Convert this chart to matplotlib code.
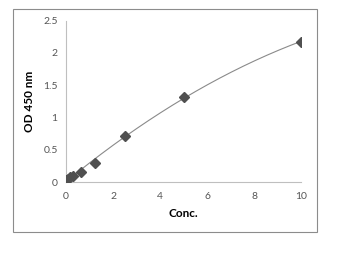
import numpy as np
import matplotlib.pyplot as plt
from matplotlib.patches import Rectangle

# standard curve data
conc = [0, 0.078, 0.156, 0.3125, 0.625, 1.25, 2.5, 5, 10]
od450 = [0.03, 0.05, 0.07, 0.10, 0.155, 0.295, 0.72, 1.315, 2.175]

plt.rcParams['font.family'] = ['Lato', 'DejaVu Sans']

fig = plt.figure(figsize=(3.41, 2.67), dpi=100)
fig.patches.append(Rectangle((13 / 341, 1 - 232 / 267), 304 / 341, 223 / 267,
                             transform=fig.transFigure, fill=False,
                             edgecolor='#8c8c8c', linewidth=0.8))

ax = fig.add_axes([66 / 341, 1 - 182 / 267, 235 / 341, 161.3 / 267])

# polynomial trend line (2nd order)
coef = np.polyfit(conc, od450, 2)
xs = np.linspace(0, 10, 200)
ax.plot(xs, np.polyval(coef, xs), color='#8a8a8a', linewidth=0.8, zorder=2)
ax.plot(conc, od450, linestyle='none', marker='D', markersize=5.5,
        color='#505050', zorder=3)

ax.set_xlim(0, 10)
ax.set_ylim(0, 2.5)
ax.set_xticks([0, 2, 4, 6, 8, 10])
ax.set_yticks([0, 0.5, 1, 1.5, 2, 2.5])
ax.set_yticklabels(['0', '0.5', '1', '1.5', '2', '2.5'])
ax.tick_params(length=0, labelsize=7.5, colors='#555555')
ax.tick_params(axis='x', pad=7)
ax.tick_params(axis='y', pad=6)
for s in ['top', 'right']:
    ax.spines[s].set_visible(False)
for s in ['left', 'bottom']:
    ax.spines[s].set_color('#bfbfbf')
    ax.spines[s].set_linewidth(0.8)

ax.set_xlabel('Conc.', fontsize=8.5, fontweight='bold', labelpad=5)
ax.set_ylabel('OD 450 nm', fontsize=8.5, fontweight='bold', labelpad=6)

fig.savefig('out.png', dpi=100)
